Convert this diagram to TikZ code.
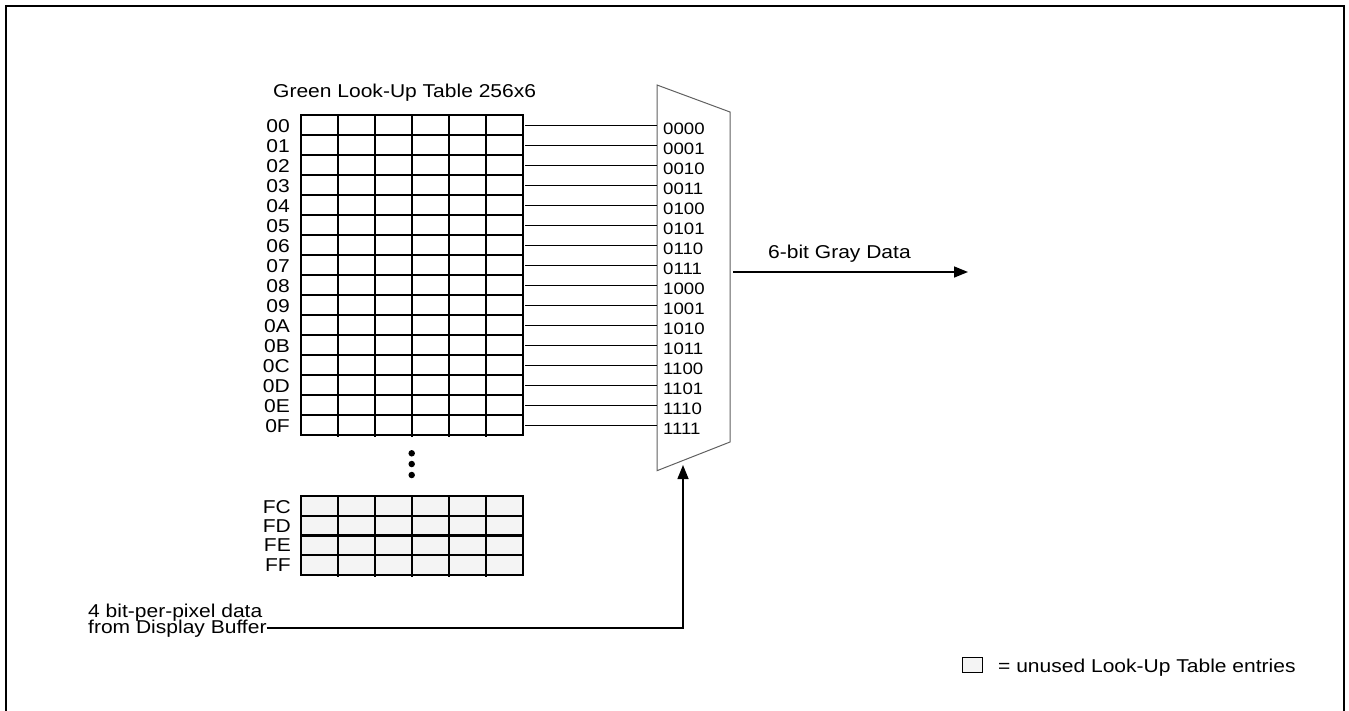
\documentclass[tikz,border=0pt]{standalone}
\usepackage{fontspec}
\usetikzlibrary{arrows.meta}
\newfontfamily\lbl{Liberation Sans}[FakeStretch=1.13]
\definecolor{unused}{HTML}{F4F4F4}
\definecolor{muxgray}{HTML}{606060}
\begin{document}
\begin{tikzpicture}[x=1pt,y=-1pt,
  every node/.style={inner sep=0pt, font=\lbl\fontsize{18.6}{20}\selectfont},
  grid/.style={line width=1.6pt},
  wire/.style={line width=1.5pt},
  muxbody/.style={draw=muxgray, line width=1pt},
  code/.style={font=\lbl\fontsize{16.5}{18}\selectfont, anchor=base west},
  rowlbl/.style={anchor=base east},
  arr/.style={line width=1.5pt, -{Triangle[length=14pt,width=11pt]}},
  frame/.style={line width=2pt},
  dot/.style={circle, fill=black, minimum size=6.5pt, inner sep=0pt}]
\useasboundingbox (0,0) rectangle (1349,710);
\draw[frame] (6,715) -- (6,5.5) -- (1344,5.5) -- (1344,715);
% title
\node[anchor=base west] (title) at (273,97) {Green Look-Up Table 256x6};
% top table
\draw[grid] (301,115) rectangle (523,435);
\foreach \i in {1,...,15} \draw[grid] (301,115+20*\i) -- (523,115+20*\i);
\foreach \j in {1,...,5} \draw[grid] (301+37*\j,115) -- (301+37*\j,436.5);
\foreach \t [count=\i from 0] in {00,01,02,03,04,05,06,07,08,09,0A,0B,0C,0D,0E,0F}
  \node[rowlbl] (l\i) at (290,132.5+20*\i) {\t};
% mux
\draw[muxbody] (657,85) coordinate (mtl) -- (730,112) coordinate (mtr)
  -- (730,442) coordinate (mbr) -- (657,470.7) coordinate (mbl) -- cycle;
\foreach \t [count=\i from 0] in {0000,0001,0010,0011,0100,0101,0110,0111,1000,1001,1010,1011,1100,1101,1110,1111}
  \node[code] (c\i) at (663,134+20*\i) {\t};
\foreach \i in {0,...,15} {
  \coordinate (w\i) at (525,125.5+20*\i);
  \coordinate (m\i) at (657,125.5+20*\i);
  \draw[wire] (w\i) -- (m\i);
}
% output
\coordinate (mout) at (733,272);
\coordinate (gout) at (968,272);
\draw[arr] (mout) -- (gout);
\node[anchor=base west] (gray) at (768,258) {6-bit Gray Data};
% dots
\node[dot] (d1) at (411.7,453.3) {};
\node[dot] (d2) at (411.7,464) {};
\node[dot] (d3) at (411.7,475) {};
% bottom table
\fill[unused] (301,496) rectangle (523,575);
\draw[grid] (301,496) rectangle (523,575);
\draw[grid] (301,515.75) -- (523,515.75);
\draw[line width=2.6pt] (301,535.5) -- (523,535.5);
\draw[grid] (301,555.25) -- (523,555.25);
\foreach \j in {1,...,5} \draw[grid] (301+37*\j,496) -- (301+37*\j,576.5);
\foreach \t/\yy in {FC/513,FD/532,FE/551,FF/571}
  \node[rowlbl] at (291,\yy) {\t};
% input
\node[anchor=base west] (bpp) at (88,617) {4 bit-per-pixel data};
\node[anchor=base west] (buf) at (88,633) {from Display Buffer};
\coordinate (min) at (683,465);
\draw[arr] (buf.east) -| (min);
% legend
\node[draw, fill=unused, line width=0.8pt, minimum width=20pt, minimum height=15pt] (legbox) at (972,665) {};
\node[anchor=base west] (leg) at (998,672) {= unused Look-Up Table entries};
\end{tikzpicture}
\end{document}
